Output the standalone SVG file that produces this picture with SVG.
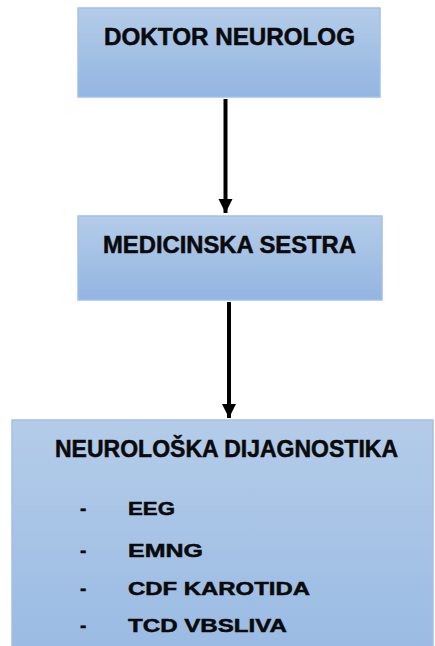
<svg xmlns="http://www.w3.org/2000/svg" width="435" height="646" viewBox="0 0 435 646">
  <defs>
    <linearGradient id="g" x1="0" y1="0" x2="0" y2="1">
      <stop offset="0" stop-color="#b4cce9"/>
      <stop offset="1" stop-color="#93b5e1"/>
    </linearGradient>
    <linearGradient id="g3" x1="0" y1="0" x2="0" y2="1">
      <stop offset="0" stop-color="#b4cce9"/>
      <stop offset="1" stop-color="#99bae3"/>
    </linearGradient>
    <marker id="ah" viewBox="0 0 10 10" refX="10" refY="5" markerWidth="3.6" markerHeight="3.6" orient="auto" markerUnits="strokeWidth">
      <path d="M0,0 L10,5 L0,10 Z" fill="#000"/>
    </marker>
    <style>
      .box { fill: url(#g); stroke: #a3c1e7; stroke-width: 1.5; }
      .t { font-family: "Liberation Sans", Arial, sans-serif; font-weight: bold; fill: #0a0a0a; stroke: #0a0a0a; stroke-width: 0.5; }
      .h { font-size: 23px; }
      .i { font-size: 19px; }
      .conn { stroke: #000; stroke-width: 4; fill: none; marker-end: url(#ah); }
    </style>
  </defs>
  <rect width="435" height="646" fill="#fff"/>
  <g id="doktor">
    <rect class="box" x="78" y="8" width="302" height="89"/>
    <text class="t h" x="104" y="45" textLength="251" lengthAdjust="spacingAndGlyphs">DOKTOR NEUROLOG</text>
  </g>
  <g id="sestra">
    <rect class="box" x="78" y="216" width="304" height="84"/>
    <text class="t h" x="103" y="253" textLength="253" lengthAdjust="spacingAndGlyphs">MEDICINSKA SESTRA</text>
  </g>
  <g id="dijagnostika">
    <rect class="box" x="12" y="420" width="421" height="240" style="fill:url(#g3)"/>
    <text class="t h" x="55" y="457" textLength="343" lengthAdjust="spacingAndGlyphs">NEUROLOŠKA DIJAGNOSTIKA</text>
    <text class="t i" x="80" y="515">-</text>
    <text class="t i" x="128" y="515" textLength="47" lengthAdjust="spacingAndGlyphs">EEG</text>
    <text class="t i" x="80" y="557">-</text>
    <text class="t i" x="128" y="557" textLength="75" lengthAdjust="spacingAndGlyphs">EMNG</text>
    <text class="t i" x="80" y="595">-</text>
    <text class="t i" x="128" y="595" textLength="182" lengthAdjust="spacingAndGlyphs">CDF KAROTIDA</text>
    <text class="t i" x="80" y="632">-</text>
    <text class="t i" x="128" y="632" textLength="159" lengthAdjust="spacingAndGlyphs">TCD VBSLIVA</text>
  </g>
  <g id="connectors">
    <line class="conn" x1="225.5" y1="99" x2="225.5" y2="213"/>
    <line class="conn" x1="229" y1="302" x2="229" y2="418"/>
  </g>
</svg>
